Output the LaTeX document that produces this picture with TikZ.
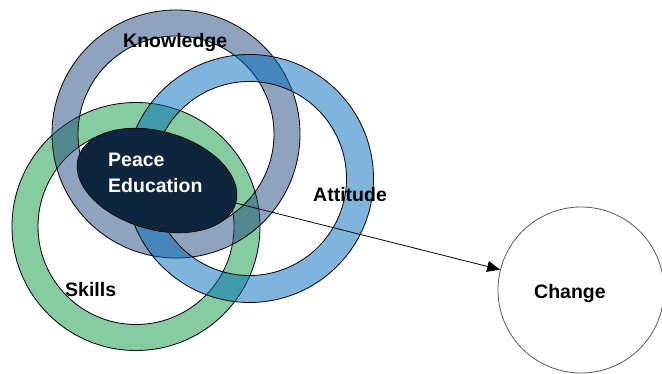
\documentclass[tikz,border=0pt]{standalone}
\usepackage{fontspec}
\setmainfont{Liberation Sans}
\usetikzlibrary{shapes.geometric,arrows.meta}
\definecolor{grbase}{RGB}{13,153,65}
\definecolor{knbase}{RGB}{31,71,127}
\definecolor{atbase}{RGB}{0,105,187}
\definecolor{navy}{RGB}{15,36,61}
\definecolor{chgline}{RGB}{90,90,90}
\begin{document}
\begin{tikzpicture}[x=1pt,y=-1pt,
  ring/.style={draw=black, line width=0.8pt, fill opacity=0.5, even odd rule},
  lbl/.style={anchor=base west, inner sep=0pt, font=\fontsize{19.5}{22}\selectfont\bfseries},
]
\useasboundingbox (0,0) rectangle (662,374);
% rings
\path[ring, fill=grbase] (136,226.5) circle[radius=124pt] (136,226.5) circle[radius=98pt];
\path[ring, fill=knbase] (176,134) circle[radius=124pt] (176,134) circle[radius=98pt];
\path[ring, fill=atbase] (249.5,178.5) circle[radius=124pt] (249.5,178.5) circle[radius=97pt];
% central ellipse
\node[ellipse, draw=black, line width=0.6pt, fill=navy, minimum width=164pt, minimum height=98pt, inner sep=0pt, rotate=-16] (pe) at (157,180.5) {};
\node[lbl, text=white] (pe1) at (108,167) {Peace};
\node[lbl, text=white] (pe2) at (108,193) {Education};
% change
\node[circle, draw=chgline, line width=0.8pt, minimum size=166pt, inner sep=0pt] (chg) at (581,290) {};
\node[lbl] (chgl) at (534,299) {Change};
% labels
\node[lbl] (kn) at (123,48) {Knowledge};
\node[lbl] (at) at (313,202) {Attitude};
\node[lbl] (sk) at (65,297) {Skills};
% arrow
\draw[line width=0.8pt, -{Triangle[length=13pt,width=11pt]}] (pe.east) -- (chg);
\end{tikzpicture}
\end{document}
